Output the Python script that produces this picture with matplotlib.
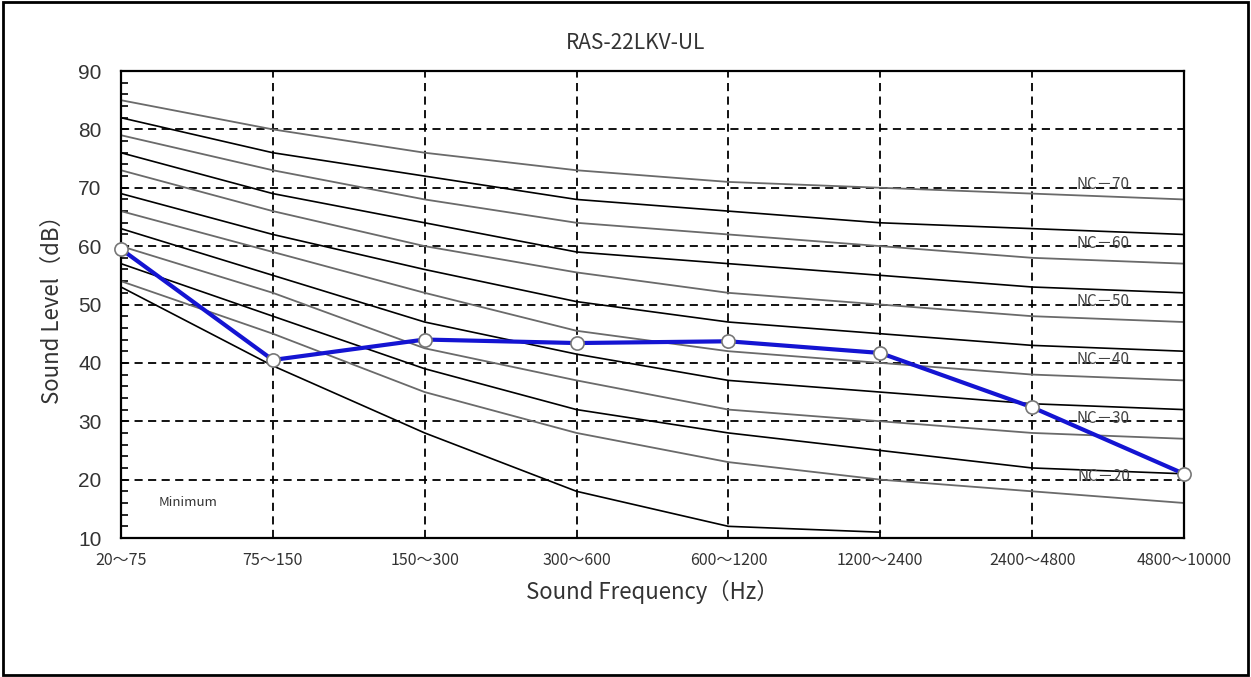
import numpy as np
import matplotlib.pyplot as plt
from matplotlib.patches import Rectangle

plt.rcParams['font.family'] = ['Noto Sans CJK JP', 'DejaVu Sans']

# 周波数帯 (x 軸カテゴリ)
bands = ['20～75', '75～150', '150～300', '300～600', '600～1200',
         '1200～2400', '2400～4800', '4800～10000']

# 測定値 RAS-22LKV-UL
measured = [59.5, 40.5, 44.0, 43.4, 43.7, 41.7, 32.4, 21.0]

# NC 曲線
nc70 = [85, 80, 76, 73, 71, 70, 69, 68]
nc65 = [82, 76, 72, 68, 66, 64, 63, 62]
nc60 = [79, 73, 68, 64, 62, 60, 58, 57]
nc55 = [76, 69, 64, 59, 57, 55, 53, 52]
nc50 = [73, 66, 60, 55.5, 52, 50, 48, 47]
nc45 = [69, 62, 56, 50.5, 47, 45, 43, 42]
nc40 = [66, 59, 52, 45.5, 42, 40, 38, 37]
nc35 = [63, 55, 47, 41.5, 37, 35, 33, 32]
nc30 = [60, 52, 42.5, 37, 32, 30, 28, 27]
nc25 = [57, 48, 39, 32, 28, 25, 22, 21]
nc20 = [54, 45, 35, 28, 23, 20, 18, 16]
minimum = [53, 39.5, 28, 18, 12, 11]

gray_curves = [nc70, nc60, nc50, nc40, nc30, nc20]
black_curves = [nc65, nc55, nc45, nc35, nc25]
nc_labels = ['NC－70', 'NC－60', 'NC－50', 'NC－40', 'NC－30', 'NC－20']
nc_label_y = [70, 60, 50, 40, 30, 20]

x = np.arange(len(bands))

fig = plt.figure(figsize=(12.51, 6.77), dpi=100)
ax = fig.add_axes([0.0967, 0.2053, 0.8497, 0.6898])

# グリッド
for xv in x:
    ax.axvline(xv, color='black', lw=1.3, linestyle=(0, (4.5, 3)), zorder=1)
for yv in range(20, 90, 10):
    ax.axhline(yv, color='black', lw=1.3, linestyle=(0, (4.5, 3)), zorder=1)

for c in gray_curves:
    ax.plot(x, c, color='#6a6a6a', lw=1.3, zorder=2)
for c in black_curves:
    ax.plot(x, c, color='black', lw=1.2, zorder=2)
ax.plot(x[:len(minimum)], minimum, color='black', lw=1.2, zorder=2)

for lab, yv in zip(nc_labels, nc_label_y):
    ax.text(6.47, yv + 0.5, lab, fontsize=11, color='#444444',
            ha='center', va='center', zorder=3)

ax.text(0.25, 16, 'Minimum', fontsize=9.5, color='#333333', ha='left', va='center')

ax.plot(x, measured, color='#1414d2', lw=3, marker='o', markersize=9.5,
        markerfacecolor='white', markeredgecolor='#777777', markeredgewidth=1.2,
        zorder=5, clip_on=False)

ax.set_xlim(0, 7)
ax.set_ylim(10, 90)
ax.set_xticks(x)
ax.set_xticklabels(bands, fontsize=11.5, color='#333333')
ax.set_yticks(range(10, 91, 10))
ax.set_yticklabels([str(v) for v in range(10, 91, 10)], fontsize=15, color='#333333',
                   family=['Liberation Sans', 'DejaVu Sans'])
ax.set_yticks(range(10, 91, 2), minor=True)
ax.tick_params(axis='x', length=0, pad=10)
ax.tick_params(axis='y', which='both', direction='in', length=5, width=1.2, pad=14)
for s in ax.spines.values():
    s.set_linewidth(1.6)

ax.set_xlabel('Sound Frequency（Hz）', fontsize=16, color='#333333', labelpad=8)
ax.set_ylabel('Sound Level（dB）', fontsize=16, color='#333333', labelpad=10)
fig.text(0.508, 0.936, 'RAS-22LKV-UL', fontsize=15, color='#333333', ha='center', va='center')

fig.patches.append(Rectangle((0.002, 0.003), 0.996, 0.994, transform=fig.transFigure,
                             fill=False, edgecolor='black', lw=2))

fig.savefig('out.png', dpi=100)
